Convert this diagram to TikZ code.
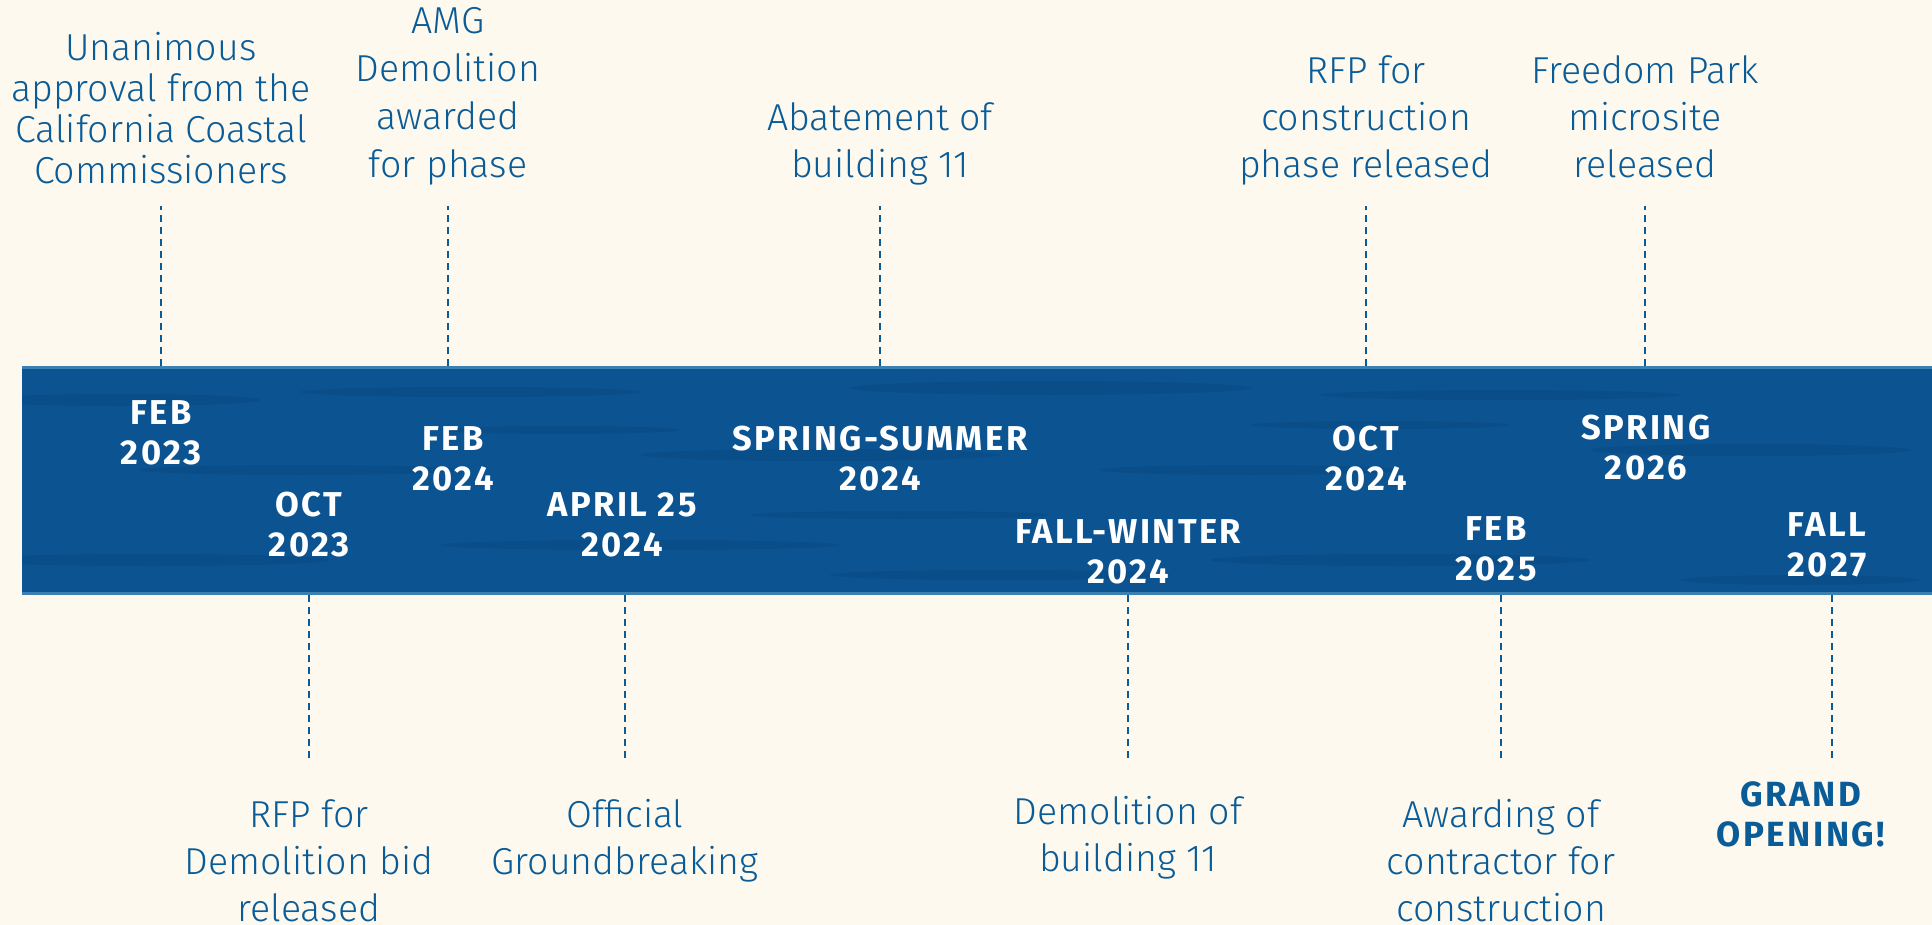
\documentclass[tikz,border=0pt]{standalone}
\usepackage{fontspec}
\setmainfont{Fira Sans Light}
\newfontfamily\datefont[LetterSpace=7]{Fira Sans}
\definecolor{paper}{HTML}{FEF9EE}
\definecolor{ink}{HTML}{0A5C98}
\definecolor{sea}{HTML}{0B5391}
\definecolor{seadeep}{HTML}{06386A}
\definecolor{seaedge}{HTML}{3A80B3}
\tikzset{
  event/.style={font=\fontsize{37.5}{47}\selectfont, text=ink, align=center, anchor=base, inner sep=0pt},
  when/.style={font=\datefont\bfseries\fontsize{34.5}{40}\selectfont, text=white, align=center, anchor=base, inner sep=0pt},
  tick/.style={ink, line width=1.6pt, dash pattern=on 7pt off 5pt},
  streak/.style={fill=seadeep, opacity=.18},
}
\begin{document}
\begin{tikzpicture}[x=1pt,y=-1pt,line cap=butt]
	\fill [paper] (0,0) rectangle (1932,925);
	\useasboundingbox (0,0) rectangle (1932,925);
	% the band
	\fill [sea] (22,366) rectangle (1932,595);
	\begin{scope}
		\clip (22,366) rectangle (1932,595);
		\foreach \cx/\cy/\rx/\ry in {120/400/140/6, 470/392/170/5, 1050/388/200/7, 1500/395/180/5,
			300/470/160/5, 820/455/180/6, 1250/470/150/5, 1750/450/160/6, 560/430/120/4, 1380/425/130/4,
			150/560/180/6, 640/545/200/5, 1000/575/170/5, 1400/560/190/6, 1800/580/120/5, 900/515/150/4}
			\fill [streak] (\cx,\cy) ellipse [x radius=\rx, y radius=\ry];
	\end{scope}
	\draw [seaedge, line width=3pt] (22,367.5) -- (1932,367.5) (22,593.5) -- (1932,593.5);
	% dashes above and below
	\foreach \n/\x in {1/161,3/448,5/880,7/1366,9/1645}{
		\coordinate (e\n) at (\x,366);
		\coordinate (f\n) at (\x,206);
		\draw [tick] (e\n) -- (f\n);
	}
	\foreach \n/\x in {2/309,4/625,6/1128,8/1501,10/1832}{
		\coordinate (e\n) at (\x,595);
		\coordinate (f\n) at (\x,758);
		\draw [tick] (e\n) -- (f\n);
	}
	% what happened (base = last line)
	\node [event, font=\fontsize{37.5}{41}\selectfont] (ev1) at (161,184) {Unanimous\\approval from the\\California Coastal\\Commissioners};
	\node [event, font=\fontsize{37.5}{48}\selectfont] (ev3) at (448,178) {AMG\\Demolition\\awarded\\for phase};
	\node [event] (ev5) at (880,178) {Abatement of\\building 11};
	\node [event] (ev7) at (1366,178) {RFP for\\construction\\phase released};
	\node [event] (ev9) at (1645,178) {Freedom Park\\microsite\\released};
	\node [event] (ev2) at (309,921) {RFP for\\Demolition bid\\released};
	\node [event] (ev4) at (625,874) {Official\\Groundbreaking};
	\node [event] (ev6) at (1128,871) {Demolition of\\building 11};
	\node [event] (ev8) at (1501,921) {Awarding of\\contractor for\\construction};
	\node [when, text=ink, font=\datefont\bfseries\fontsize{35}{40}\selectfont] (ev10) at (1801,846) {GRAND\\OPENING!};
	% when
	\node [when] (d1) at (161,464) {FEB\\2023};
	\node [when] (d2) at (309,556) {OCT\\2023};
	\node [when] (d3) at (453,490) {FEB\\2024};
	\node [when] (d4) at (622,556) {APRIL 25\\2024};
	\node [when] (d5) at (880,490) {SPRING-SUMMER\\2024};
	\node [when] (d6) at (1128,583) {FALL-WINTER\\2024};
	\node [when] (d7) at (1366,490) {OCT\\2024};
	\node [when] (d8) at (1496,580) {FEB\\2025};
	\node [when] (d9) at (1646,479) {SPRING\\2026};
	\node [when] (d10) at (1827,576) {FALL\\2027};
\end{tikzpicture}
\end{document}
